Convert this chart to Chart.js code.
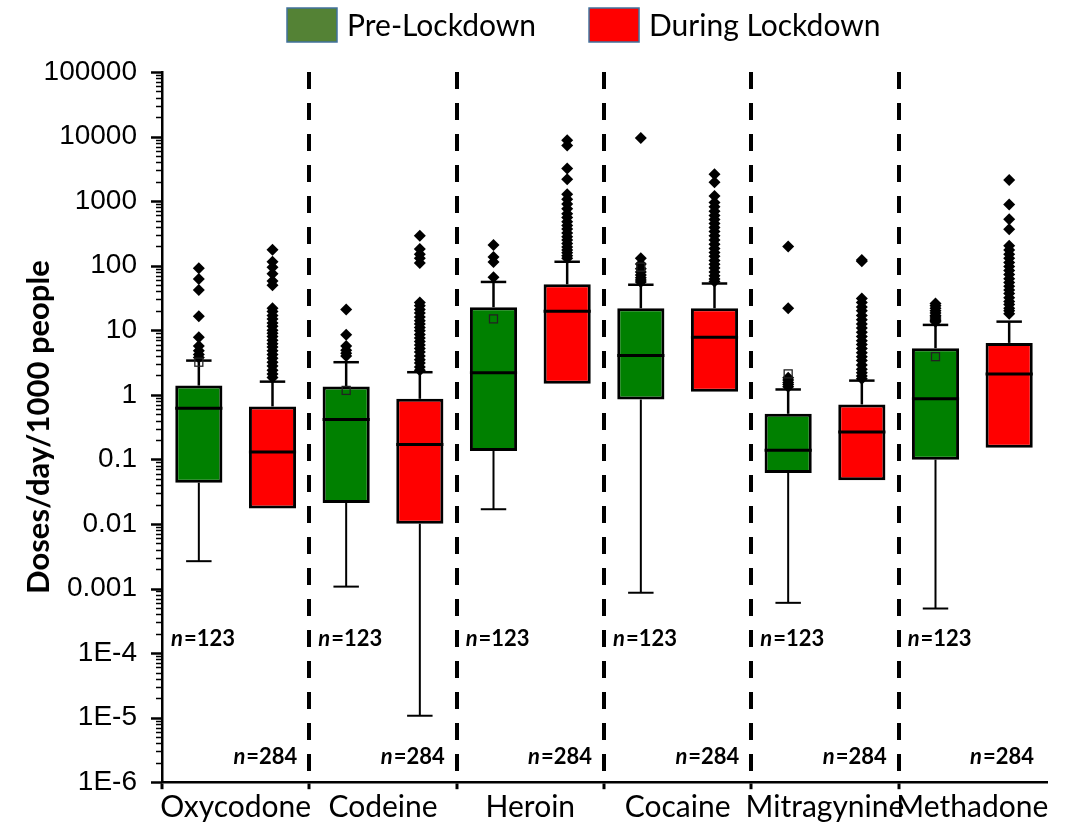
<!DOCTYPE html>
<html>
<head>
<meta charset="utf-8">
<script src="https://cdn.jsdelivr.net/npm/chart.js@4.4.0/dist/chart.umd.min.js"></script>
<style>
  html, body { margin: 0; padding: 0; background: #fff; }
  #wrap { width: 1073px; height: 824px; position: relative; }
</style>
</head>
<body>
<div id="wrap"><canvas id="doses"></canvas></div>
<script>
// Drugs and sample sizes
var drugs = ["Oxycodone", "Codeine", "Heroin", "Cocaine", "Mitragynine", "Methadone"];
var nPre = [123, 123, 123, 123, 123, 123];
var nDuring = [284, 284, 284, 284, 284, 284];
var seriesNames = ["Pre-Lockdown", "During Lockdown"];

// Pre-lockdown box statistics (doses/day/1000 people)
var preLow = [0.00265, 0.00107, 0.0169, 0.00086, 0.0006, 0.00049];
var preQ1 = [0.0436, 0.0212, 0.135, 0.845, 0.0617, 0.099];
var preMedian = [0.62, 0.415, 2.19, 4.05, 0.138, 0.867];
var preQ3 = [1.39, 1.34, 22.7, 21.9, 0.508, 5.27];
var preHigh = [3.39, 3.2, 56, 50.7, 1.21, 12.1];
var preMean = [3.2, 1.17, 15, 95, 2.11, 3.9];
var preOutliers = [
  [91, 62, 42, 16.5, 7.8, 5.7, 4.8, 4.2, 3.8],
  [21, 8.5, 5.7, 4.9, 4.4, 4.0],
  [210, 136, 114, 66],
  [9480, 130, 106, 90, 80, 72, 65, 60, 56],
  [199, 21.9, 1.83, 1.7, 1.55, 1.45, 1.33],
  [26, 24, 22, 20, 18.5, 17, 16, 15, 14.2, 13.5]
];

// During-lockdown box statistics
var durLow = [0.0173, 1.07e-5, 1.48, 1.12, 0.0473, 0.152];
var durQ1 = [0.0173, 0.0101, 1.48, 1.12, 0.0473, 0.152];
var durMedian = [0.13, 0.17, 19.7, 7.8, 0.265, 2.11];
var durQ3 = [0.66, 0.867, 51.4, 21.9, 0.708, 6.37];
var durHigh = [1.6, 2.24, 115, 53, 1.66, 13.6];
var durOutliers = [
  [176, 115, 95, 75, 58, 50, 22, 19.5, 17, 15, 13, 11.5, 10, 9, 8, 7, 6.2, 5.5, 4.8, 4.2, 3.7, 3.2, 2.8, 2.4, 2.1, 1.85],
  [290, 181, 151, 130, 110, 27, 24, 21, 18.5, 16, 14, 12.5, 11, 9.8, 8.6, 7.6, 6.7, 5.9, 5.2, 4.6, 4.0, 3.5, 3.1, 2.7, 2.4],
  [8730, 7300, 3190, 2180, 1276, 1070, 900, 760, 640, 560, 480, 420, 370, 320, 280, 250, 220, 195, 175, 158, 143, 130],
  [2600, 1960, 1200, 955, 820, 700, 600, 520, 450, 390, 340, 290, 250, 215, 185, 160, 140, 120, 105, 92, 80, 70, 62, 57],
  [123, 117, 31, 27, 23, 20, 17, 14.5, 12.5, 10.8, 9.3, 8, 6.9, 6, 5.2, 4.5, 3.9, 3.4, 2.9, 2.5, 2.2, 1.95, 1.77],
  [2130, 885, 525, 368, 203, 175, 150, 130, 112, 97, 84, 73, 63, 55, 48, 42, 37, 32, 28, 25, 22, 20, 18]
];

// Decade labels from 1E-6 up to 100000
var yTickLabels = ["1E-6", "1E-5", "1E-4", "0.001", "0.01", "0.1", "1", "10", "100", "1000", "10000", "100000"];

var groups = [
  { low: preLow, q1: preQ1, med: preMedian, q3: preQ3, high: preHigh, mean: preMean, out: preOutliers },
  { low: durLow, q1: durQ1, med: durMedian, q3: durQ3, high: durHigh, mean: null, out: durOutliers }
];

var colors = ["#008000", "#ff0000"];
var legendColors = ["#548235", "#ff0000"];

function line(ctx, x1, y1, x2, y2) {
  ctx.beginPath();
  ctx.moveTo(x1, y1);
  ctx.lineTo(x2, y2);
  ctx.stroke();
}

// whiskers, medians, outliers, means, y ticks, n labels and legend
var boxExtras = {
  id: "boxExtras",
  afterDatasetsDraw: function (chart) {
    var ctx = chart.ctx;
    var ys = chart.scales.y;
    ctx.save();
    ctx.strokeStyle = "#000";
    groups.forEach(function (g, d) {
      var meta = chart.getDatasetMeta(d);
      meta.data.forEach(function (bar, i) {
        var x = bar.x;
        var w = bar.width;
        var cap = w * 0.27;
        var yq1 = ys.getPixelForValue(g.q1[i]);
        var yq3 = ys.getPixelForValue(g.q3[i]);
        ctx.lineWidth = 2.5;
        if (g.high[i] > g.q3[i]) {
          var yh = ys.getPixelForValue(g.high[i]);
          line(ctx, x, yq3, x, yh);
          line(ctx, x - cap, yh, x + cap, yh);
        }
        if (g.low[i] < g.q1[i]) {
          var yl = ys.getPixelForValue(g.low[i]);
          ctx.lineWidth = 2;
          line(ctx, x, yq1, x, yl);
          line(ctx, x - cap, yl, x + cap, yl);
        }
        // median
        ctx.lineWidth = 3;
        var ym = ys.getPixelForValue(g.med[i]);
        line(ctx, x - w / 2, ym, x + w / 2, ym);
        // outliers as filled diamonds
        ctx.fillStyle = "#000";
        g.out[i].forEach(function (v) {
          var yo = ys.getPixelForValue(v);
          ctx.beginPath();
          ctx.moveTo(x, yo - 6);
          ctx.lineTo(x + 6, yo);
          ctx.lineTo(x, yo + 6);
          ctx.lineTo(x - 6, yo);
          ctx.closePath();
          ctx.fill();
        });
        // mean as open square
        if (g.mean) {
          var yMean = ys.getPixelForValue(g.mean[i]);
          ctx.lineWidth = 1.3;
          ctx.strokeStyle = "#222";
          ctx.strokeRect(x - 4, yMean - 4, 8, 8);
          ctx.strokeStyle = "#000";
        }
      });
    });
    ctx.restore();
  },
  afterDraw: function (chart) {
    var ctx = chart.ctx;
    var ys = chart.scales.y;
    var xs = chart.scales.x;
    var area = chart.chartArea;
    ctx.save();
    // log tick marks, longer at each decade
    ctx.strokeStyle = "#000";
    ys.ticks.forEach(function (t) {
      var py = Math.round(ys.getPixelForValue(t.value)) + 0.5;
      ctx.lineWidth = t.major ? 2.5 : 1.5;
      line(ctx, area.left - (t.major ? 11 : 6), py, area.left, py);
    });

    // n labels under each pair of boxes
    var half = xs.width / drugs.length / 2;
    ctx.fillStyle = "#000";
    ctx.textBaseline = "middle";
    drugs.forEach(function (name, i) {
      var cx = xs.getPixelForValue(i);
      var left = cx - half + 9;
      var right = cx + half - 13;
      drawN(ctx, nPre[i], left, area.bottom - 143, "left");
      drawN(ctx, nDuring[i], right, area.bottom - 25, "right");
    });

    // legend
    ctx.font = "30px Lato";
    ctx.textAlign = "left";
    var x = 287;
    seriesNames.forEach(function (name, d) {
      ctx.fillStyle = legendColors[d];
      ctx.fillRect(x, 8, 50, 34);
      ctx.lineWidth = 1.5;
      ctx.strokeStyle = "#41719c";
      ctx.strokeRect(x, 8, 50, 34);
      ctx.fillStyle = "#000";
      ctx.fillText(name, x + 60, 26);
      x += 60 + ctx.measureText(name).width + 53;
    });
    ctx.restore();
  }
};

function drawN(ctx, n, x, y, align) {
  var italic = "italic bold 22px Lato";
  var bold = "bold 22px Lato";
  var rest = "=" + n;
  ctx.font = italic;
  var wn = ctx.measureText("n").width;
  ctx.font = bold;
  var wr = ctx.measureText(rest).width;
  var start = align === "left" ? x : x - wn - wr;
  ctx.textAlign = "left";
  ctx.font = italic;
  ctx.fillText("n", start, y);
  ctx.font = bold;
  ctx.fillText(rest, start + wn + 1, y);
}

Chart.defaults.font.family = "Lato";
Chart.defaults.color = "#000";

var ctx = document.getElementById("doses").getContext("2d");
var dosesChart = new Chart(ctx, {
  type: "bar",
  data: {
    labels: drugs,
    datasets: groups.map(function (g, d) {
      return {
        label: seriesNames[d],
        data: g.q1.map(function (v, i) { return [v, g.q3[i]]; }),
        backgroundColor: colors[d],
        borderColor: "#000",
        borderWidth: 3,
        borderSkipped: false,
        categoryPercentage: 1.0,
        barPercentage: 0.64
      };
    })
  },
  options: {
    responsive: true,
    maintainAspectRatio: false,
    animation: false,
    devicePixelRatio: 1,
    layout: { padding: { top: 72, right: 27, bottom: 0, left: 0 } },
    plugins: {
      legend: { display: false },
      tooltip: { enabled: false }
    },
    scales: {
      x: {
        afterFit: function (s) { s.height = 41; },
        grid: {
          offset: true,
          drawOnChartArea: true,
          lineWidth: 4,
          // dashed separators only between drugs
          color: function (c) { return c.type === "tick" && c.index > 0 ? "#000" : "rgba(0,0,0,0)"; },
          tickLength: 7,
          tickWidth: 3,
          tickColor: function (c) { return c.type === "tick" ? "#000" : "rgba(0,0,0,0)"; }
        },
        border: { display: true, color: "#000", width: 2.5, dash: [17, 14] },
        ticks: {
          autoSkip: false,
          maxRotation: 0,
          minRotation: 0,
          color: "#000",
          padding: 0,
          font: { family: "Lato", size: 30 }
        }
      },
      y: {
        type: "logarithmic",
        min: 1e-6,
        max: 1e5,
        afterFit: function (s) { s.width = 162; },
        afterBuildTicks: function (s) {
          var ticks = [];
          for (var e = -6; e <= 5; e++) {
            for (var m = 1; m <= 9; m++) {
              if (e === 5 && m > 1) break;
              ticks.push({ value: m * Math.pow(10, e), major: m === 1 });
            }
          }
          s.ticks = ticks;
        },
        grid: { drawOnChartArea: false, drawTicks: false },
        border: { display: true, color: "#000", width: 2.5 },
        ticks: {
          autoSkip: false,
          padding: 25,
          color: "#000",
          font: { family: "Liberation Sans", size: 28 },
          callback: function (value, index, ticks) {
            if (!ticks[index].major) return "";
            return yTickLabels[Math.round(Math.log10(value)) + 6];
          }
        },
        title: {
          display: true,
          text: "Doses/day/1000 people",
          color: "#000",
          font: { family: "Lato", size: 31, weight: "bold" },
          padding: { top: 20, bottom: 0 }
        }
      }
    }
  },
  plugins: [boxExtras]
});
</script>
</body>
</html>
